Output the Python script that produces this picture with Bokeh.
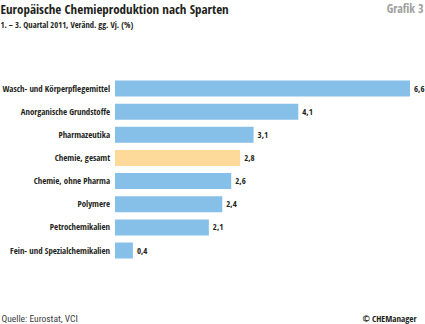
from bokeh.plotting import figure
from bokeh.models import ColumnDataSource, Range1d, Label
from bokeh.core.properties import value
from bokeh.embed import file_html
from bokeh.resources import INLINE

categories = ["Wasch- und Körperpflegemittel", "Anorganische Grundstoffe", "Pharmazeutika",
              "Chemie, gesamt", "Chemie, ohne Pharma", "Polymere", "Petrochemikalien",
              "Fein- und Spezialchemikalien"]
values = [6.6, 4.1, 3.1, 2.8, 2.6, 2.4, 2.1, 0.4]
value_labels = ["6,6", "4,1", "3,1", "2,8", "2,6", "2,4", "2,1", "0,4"]
highlight = "Chemie, gesamt"

BLUE = "#86c0e8"
ORANGE = "#fdd99a"
FONT = "Open Sans Condensed, Roboto Condensed, sans-serif"
FONT_REG = "Roboto Condensed, sans-serif"

W, H = 425, 324
x0px = 114.5
ppu = 44.7
y0px = 88.0
ystep = 23.15

p = figure(width=W, height=H, output_backend="svg", toolbar_location=None,
           x_range=Range1d(-x0px / ppu, (W - x0px) / ppu),
           y_range=Range1d((H - y0px) / ystep, -y0px / ystep),
           min_border=0, min_border_left=0, min_border_right=0,
           min_border_top=0, min_border_bottom=0)
p.axis.visible = False
p.grid.visible = False
p.outline_line_color = None
p.background_fill_color = "white"
p.border_fill_color = "white"

src = ColumnDataSource(dict(
    y=list(range(len(categories))),
    cat=categories,
    val=values,
    lab=value_labels,
    zero=[0] * len(values),
    color=[ORANGE if c == highlight else BLUE for c in categories],
))

p.hbar(y="y", left=0, right="val", height=0.69, fill_color="color", line_color=None, source=src)

p.text(x="zero", y="y", text="cat", source=src, x_offset=-5, text_align="right",
       text_baseline="middle", text_font=value(FONT), text_font_style="bold",
       text_font_size="8.8px", text_color="#231f20")
p.text(x="val", y="y", text="lab", source=src, x_offset=4, text_align="left",
       text_baseline="middle", text_font=value(FONT), text_font_style="bold",
       text_font_size="8.8px", text_color="#231f20")

def lab(text, x, ycanvas, size, color="#231f20", style="bold", align="left", font=FONT):
    p.add_layout(Label(x=x, y=H - ycanvas, x_units="screen", y_units="screen", text=text,
                       text_font=font, text_font_style=style, text_font_size=size,
                       text_color=color, text_align=align, text_baseline="middle"))

lab("Europäische Chemieproduktion nach Sparten", 0, 8, "13px")
lab("1. – 3. Quartal 2011, Veränd. gg. Vj. (%)", 0, 23.5, "8.5px")
lab("Grafik 3", 423, 8, "12px", color="#9d9d9c", align="right")
lab("Quelle: Eurostat, VCI", 1, 317.5, "9.5px", color="#3c3c3b", style="normal", font=FONT_REG)
lab("© CHEManager", 416, 317.5, "9px", color="#231f20", style="bold", align="right")

open("out.html", "w").write(file_html(p, INLINE))
